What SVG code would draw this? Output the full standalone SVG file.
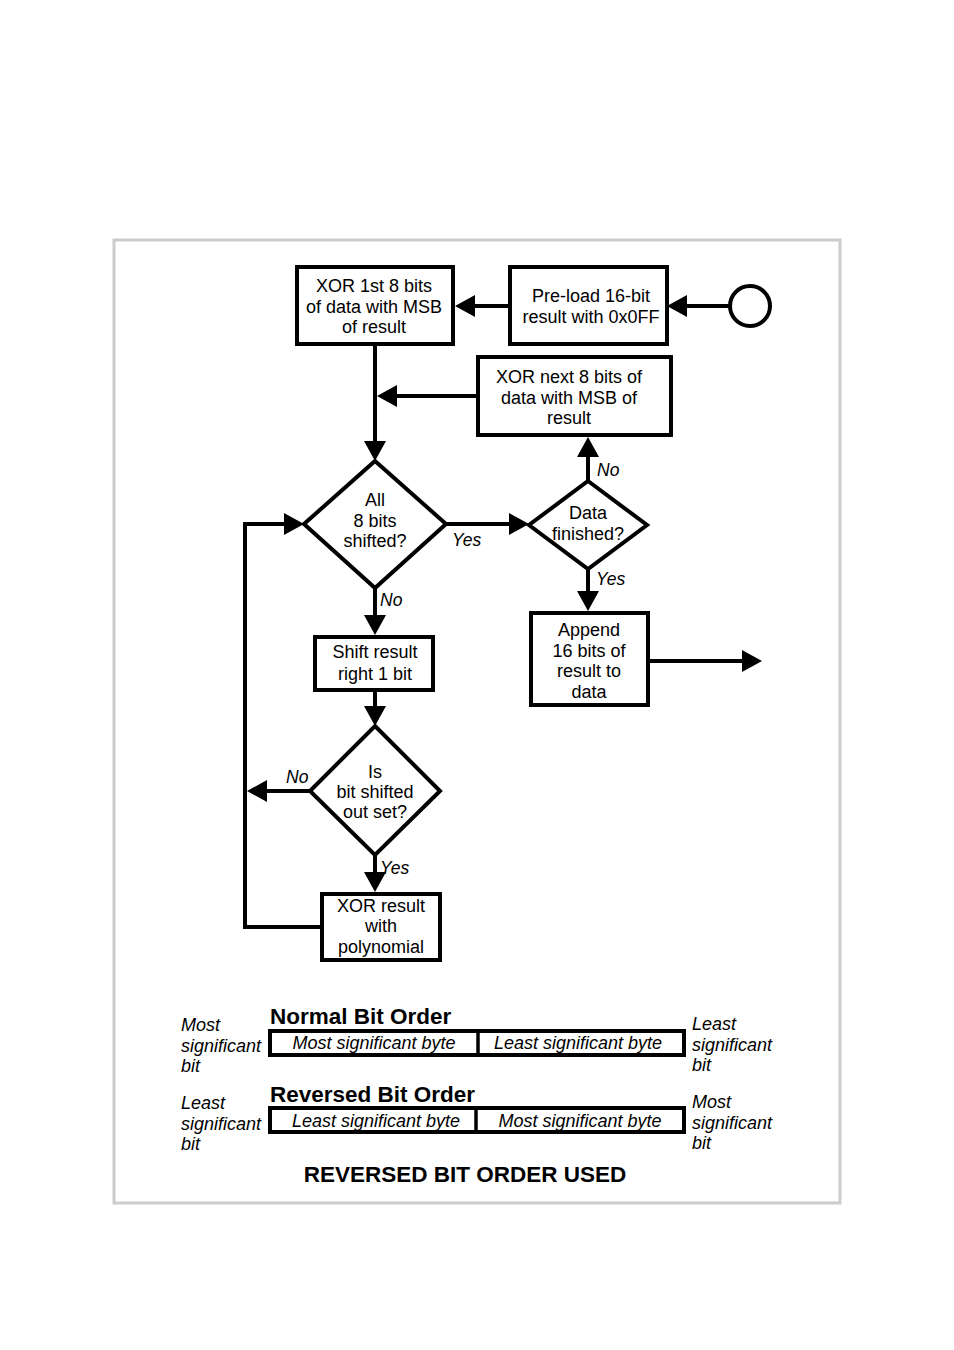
<svg xmlns="http://www.w3.org/2000/svg" width="954" height="1350" viewBox="0 0 954 1350">
<style>
.box{fill:#fff;stroke:#000;stroke-width:4}
.t{font-family:"Liberation Sans",Arial,sans-serif;font-size:18px;fill:#000;text-anchor:middle}
.lbl{font-family:"Liberation Sans",Arial,sans-serif;font-size:17.5px;font-style:italic;fill:#000}
.side{font-family:"Liberation Sans",Arial,sans-serif;font-size:18px;font-style:italic;fill:#000}
.bi{font-family:"Liberation Sans",Arial,sans-serif;font-size:18px;font-style:italic;fill:#000;text-anchor:middle}
.hd{font-family:"Liberation Sans",Arial,sans-serif;font-size:22.5px;font-weight:bold;fill:#000}
.c{fill:none;stroke:#000;stroke-width:4}
</style>
<defs>
<marker id="ah" markerUnits="userSpaceOnUse" markerWidth="20" markerHeight="22" refX="10" refY="11" orient="auto">
<path d="M0,0 L20,11 L0,22 z" fill="#000"/>
</marker>
</defs>
<rect x="0" y="0" width="954" height="1350" fill="#fff"/>
<rect x="114" y="240" width="726" height="963" fill="none" stroke="#cccccc" stroke-width="3"/>

<g id="connectors">
<path class="c" d="M730,306 H677" marker-end="url(#ah)"/>
<path class="c" d="M510,306 H465" marker-end="url(#ah)"/>
<path class="c" d="M375,345 V451" marker-end="url(#ah)"/>
<path class="c" d="M478,396 H387" marker-end="url(#ah)"/>
<path class="c" d="M446,524 H519" marker-end="url(#ah)"/>
<path class="c" d="M588,481 V447" marker-end="url(#ah)"/>
<path class="c" d="M588,569 V601" marker-end="url(#ah)"/>
<path class="c" d="M648,661 H752" marker-end="url(#ah)"/>
<path class="c" d="M375,588 V625" marker-end="url(#ah)"/>
<path class="c" d="M375,690 V716" marker-end="url(#ah)"/>
<path class="c" d="M310,791 H257" marker-end="url(#ah)"/>
<path class="c" d="M375,855 V882" marker-end="url(#ah)"/>
<path class="c" d="M322,927 H245 V524 H294" marker-end="url(#ah)"/>
<text class="lbl" x="452" y="546">Yes</text>
<text class="lbl" x="597" y="476">No</text>
<text class="lbl" x="596" y="585">Yes</text>
<text class="lbl" x="380" y="606">No</text>
<text class="lbl" x="286" y="783">No</text>
<text class="lbl" x="380" y="874">Yes</text>
</g>

<g id="start">
<circle cx="750" cy="306" r="20" fill="#fff" stroke="#000" stroke-width="4"/>
</g>

<g id="preload">
<rect class="box" x="510" y="267" width="157" height="77"/>
<text class="t" x="591" y="302">Pre-load 16-bit</text>
<text class="t" x="591" y="323">result with 0x0FF</text>
</g>

<g id="xor1st">
<rect class="box" x="297" y="267" width="156" height="77"/>
<text class="t" x="374" y="292">XOR 1st 8 bits</text>
<text class="t" x="374" y="313">of data with MSB</text>
<text class="t" x="374" y="333">of result</text>
</g>

<g id="xornext">
<rect class="box" x="478" y="357" width="193" height="78"/>
<text class="t" x="569" y="383">XOR next 8 bits of</text>
<text class="t" x="569" y="404">data with MSB of</text>
<text class="t" x="569" y="424">result</text>
</g>

<g id="allbits">
<polygon class="box" points="375,461 446,524 375,588 304,524"/>
<text class="t" x="375" y="506">All</text>
<text class="t" x="375" y="527">8 bits</text>
<text class="t" x="375" y="547">shifted?</text>
</g>

<g id="datafinished">
<polygon class="box" points="588,481 647,525 588,569 529,525"/>
<text class="t" x="588" y="519">Data</text>
<text class="t" x="588" y="540">finished?</text>
</g>

<g id="append">
<rect class="box" x="531" y="613" width="117" height="92"/>
<text class="t" x="589" y="636">Append</text>
<text class="t" x="589" y="657">16 bits of</text>
<text class="t" x="589" y="677">result to</text>
<text class="t" x="589" y="698">data</text>
</g>

<g id="shift">
<rect class="box" x="315" y="637" width="118" height="53"/>
<text class="t" x="375" y="658">Shift result</text>
<text class="t" x="375" y="680">right 1 bit</text>
</g>

<g id="isbit">
<polygon class="box" points="375,726 440,791 375,855 310,791"/>
<text class="t" x="375" y="778">Is</text>
<text class="t" x="375" y="798">bit shifted</text>
<text class="t" x="375" y="818">out set?</text>
</g>

<g id="xorpoly">
<rect class="box" x="322" y="894" width="118" height="66"/>
<text class="t" x="381" y="912">XOR result</text>
<text class="t" x="381" y="932">with</text>
<text class="t" x="381" y="953">polynomial</text>
</g>

<g id="normal">
<text class="hd" x="270" y="1024">Normal Bit Order</text>
<rect class="box" x="270" y="1031" width="414" height="24" stroke-width="3.5"/>
<line x1="478" y1="1031" x2="478" y2="1055" stroke="#000" stroke-width="3.5"/>
<text class="bi" x="374" y="1049">Most significant byte</text>
<text class="bi" x="578" y="1049">Least significant byte</text>
<text class="side" x="181" y="1031">Most</text>
<text class="side" x="181" y="1052">significant</text>
<text class="side" x="181" y="1072">bit</text>
<text class="side" x="692" y="1030">Least</text>
<text class="side" x="692" y="1051">significant</text>
<text class="side" x="692" y="1071">bit</text>
</g>

<g id="reversed">
<text class="hd" x="270" y="1102">Reversed Bit Order</text>
<rect class="box" x="270" y="1108" width="414" height="24" stroke-width="3.5"/>
<line x1="476" y1="1108" x2="476" y2="1132" stroke="#000" stroke-width="3.5"/>
<text class="bi" x="376" y="1127">Least significant byte</text>
<text class="bi" x="580" y="1127">Most significant byte</text>
<text class="side" x="181" y="1109">Least</text>
<text class="side" x="181" y="1130">significant</text>
<text class="side" x="181" y="1150">bit</text>
<text class="side" x="692" y="1108">Most</text>
<text class="side" x="692" y="1129">significant</text>
<text class="side" x="692" y="1149">bit</text>
</g>

<g id="footer">
<text class="hd" x="465" y="1182" text-anchor="middle">REVERSED BIT ORDER USED</text>
</g>
</svg>
